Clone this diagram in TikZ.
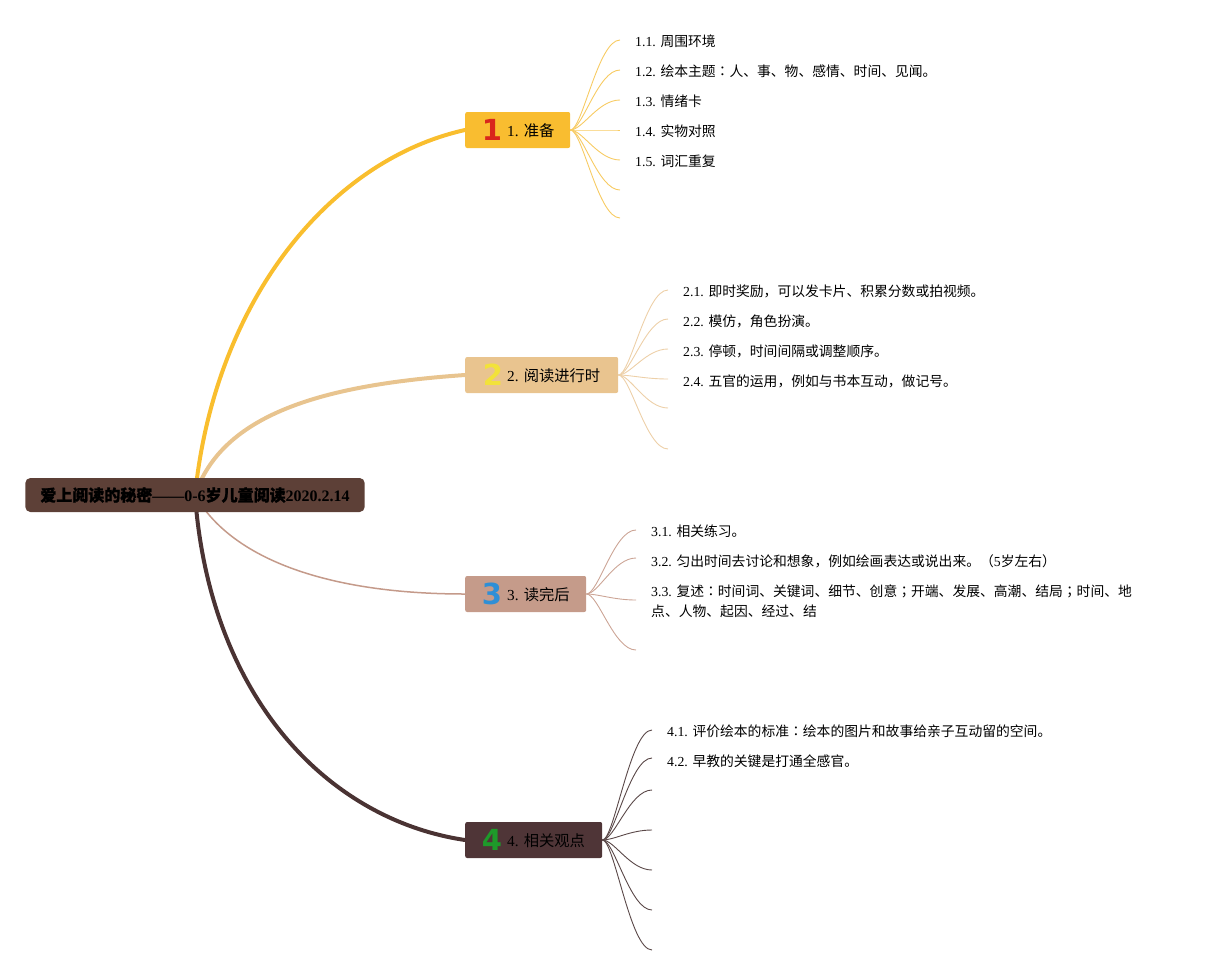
\documentclass[tikz,border=0pt]{standalone}
\usepackage{fontspec}
\setmainfont{Liberation Serif}
\newfontfamily\cjk{Noto Sans CJK SC}
\newfontfamily\cjkjp{Noto Sans CJK JP}
\newfontfamily\cjkb[FakeBold=1.2]{Noto Sans CJK SC}
\newfontfamily\iconf{DejaVu Sans}
\newcommand{\C}[1]{{\cjk #1}}
\newcommand{\CB}[1]{{\cjkb #1}}
\newcommand{\J}[1]{{\cjkjp #1}}
\usetikzlibrary{backgrounds}
\definecolor{rootfill}{HTML}{5D4037}
\definecolor{bA}{HTML}{F9BD30}
\definecolor{bB}{HTML}{E9C48F}
\definecolor{bC}{HTML}{C59B8A}
\definecolor{bD}{HTML}{4F3537}
\definecolor{lA}{HTML}{F9BE2E}
\definecolor{lB}{HTML}{E8C48F}
\definecolor{lC}{HTML}{C49A8A}
\definecolor{lD}{HTML}{4A3333}
\definecolor{sA}{HTML}{F7CB63}
\definecolor{sB}{HTML}{EDD0A8}
\definecolor{sC}{HTML}{CCA596}
\definecolor{sD}{HTML}{5A4848}
\definecolor{icA}{HTML}{D9261C}
\definecolor{icB}{HTML}{F2E23A}
\definecolor{icC}{HTML}{2F8FD6}
\definecolor{icD}{HTML}{1E9A2A}
\tikzset{
  rootbox/.style={fill=rootfill, rounded corners=5pt, inner xsep=15pt, inner ysep=0pt, minimum height=34pt, font=\fontsize{16}{18}\selectfont\bfseries, text=black},
  brbox/.style={rounded corners=2pt, minimum height=36pt, anchor=west, inner sep=0pt},
  brtext/.style={anchor=west, inner sep=0pt, font=\fontsize{15.3}{18}\selectfont, text=black},
  brico/.style={anchor=center, inner sep=0pt, font=\fontsize{29}{32}\selectfont\iconf\bfseries},
  item/.style={anchor=west, inner sep=0pt, align=left, font=\fontsize{13.8}{20}\selectfont, text=black},
  mainline/.style={line width=4pt, line cap=round},
  subline/.style={line width=0.9pt}
}
\begin{document}
\begin{tikzpicture}[x=1pt, y=-1pt]
\useasboundingbox (0,0) rectangle (1211,975);
% root
\node[rootbox] (root) at (195,495) {\CB{爱上阅读的秘密}——0-6\CB{岁儿童阅读}2020.2.14};
% branches
\node[brbox, fill=bA, minimum width=105pt] (b1) at (465,130) {};
\node[brico, text=icA] (i1) at (492,130) {1};
\node[brtext] (t1) at (507,131) {1. \C{准备}};
\node[brbox, fill=bB, minimum width=153pt] (b2) at (465,375) {};
\node[brico, text=icB] (i2) at (493,375) {2};
\node[brtext] (t2) at (507,376) {2. \C{阅读进行时}};
\node[brbox, fill=bC, minimum width=121pt] (b3) at (465,594) {};
\node[brico, text=icC] (i3) at (492,594) {3};
\node[brtext] (t3) at (507,595) {3. \C{读完后}};
\node[brbox, fill=bD, minimum width=137pt] (b4) at (465,840) {};
\node[brico, text=icD] (i4) at (492,840) {4};
\node[brtext] (t4) at (507,841) {4. \C{相关观点}};
% endpoints
\foreach \n/\y in {1/40,2/70,3/100,4/130,5/160,6/190,7/218} {\coordinate (e1\n) at (620,\y);}
\foreach \n/\y in {1/290,2/319,3/349,4/379,5/408,6/449} {\coordinate (e2\n) at (668,\y);}
\foreach \n/\y in {1/530,2/558,3/600,4/650} {\coordinate (e3\n) at (636,\y);}
\foreach \n/\y in {1/730,2/758,3/790,4/830,5/870,6/910,7/950} {\coordinate (e4\n) at (652,\y);}
% items
\node[item] (n11) at ([xshift=15pt,yshift=-1pt]e11) {1.1. \C{周围环境}};
\node[item] (n12) at ([xshift=15pt,yshift=-1pt]e12) {1.2. \C{绘本主题}\J{：}\C{人、事、物、感情、时间、见闻。}};
\node[item] (n13) at ([xshift=15pt,yshift=-1pt]e13) {1.3. \C{情绪卡}};
\node[item] (n14) at ([xshift=15pt,yshift=-1pt]e14) {1.4. \C{实物对照}};
\node[item] (n15) at ([xshift=15pt,yshift=-1pt]e15) {1.5. \C{词汇重复}};
\node[item] (n21) at ([xshift=15pt,yshift=-1pt]e21) {2.1. \C{即时奖励，可以发卡片、积累分数或拍视频。}};
\node[item] (n22) at ([xshift=15pt,yshift=-2pt]e22) {2.2. \C{模仿，角色扮演。}};
\node[item] (n23) at ([xshift=15pt,yshift=-2pt]e23) {2.3. \C{停顿，时间间隔或调整顺序。}};
\node[item] (n24) at ([xshift=15pt,yshift=-2pt]e24) {2.4. \C{五官的运用，例如与书本互动，做记号。}};
\node[item] (n31) at ([xshift=15pt,yshift=-1pt]e31) {3.1. \C{相关练习。}};
\node[item] (n32) at ([xshift=15pt,yshift=-3pt]e32) {3.2. \C{匀出时间去讨论和想象，例如绘画表达或说出来。（}5\C{岁左右）}};
\node[item] (n33) at ([xshift=15pt,yshift=-1pt]e33) {3.3. \C{复述}\J{：}\C{时间词、关键词、细节、创意}\J{；}\C{开端、发展、高潮、结局}\J{；}\C{时间、地}\\\C{点、人物、起因、经过、结}};
\node[item] (n41) at ([xshift=15pt,yshift=-1pt]e41) {4.1. \C{评价绘本的标准}\J{：}\C{绘本的图片和故事给亲子互动留的空间。}};
\node[item] (n42) at ([xshift=15pt,yshift=-3pt]e42) {4.2. \C{早教的关键是打通全感官。}};
\begin{scope}[on background layer]
\draw[mainline, draw=lA] (root.center) .. controls (215,300) and (330,160) .. (b1.west);
\draw[mainline, draw=lB] (root.center) .. controls (222,415) and (320,385) .. (b2.west);
\draw[line width=1.5pt, draw=lC] (root.center) .. controls (232,560) and (330,594) .. (b3.west);
\draw[mainline, draw=lD] (root.center) .. controls (210,700) and (330,820) .. (b4.west);
\foreach \n in {1,...,7} {\draw[subline, draw=sA] (b1.east) .. controls ([xshift=12pt]b1.east) and ([xshift=-22pt]e1\n) .. (e1\n);}
\foreach \n in {1,...,6} {\draw[subline, draw=sB] (b2.east) .. controls ([xshift=12pt]b2.east) and ([xshift=-22pt]e2\n) .. (e2\n);}
\foreach \n in {1,...,4} {\draw[subline, draw=sC] (b3.east) .. controls ([xshift=12pt]b3.east) and ([xshift=-22pt]e3\n) .. (e3\n);}
\foreach \n in {1,...,7} {\draw[subline, draw=sD] (b4.east) .. controls ([xshift=12pt]b4.east) and ([xshift=-22pt]e4\n) .. (e4\n);}
\end{scope}
\end{tikzpicture}
\end{document}
